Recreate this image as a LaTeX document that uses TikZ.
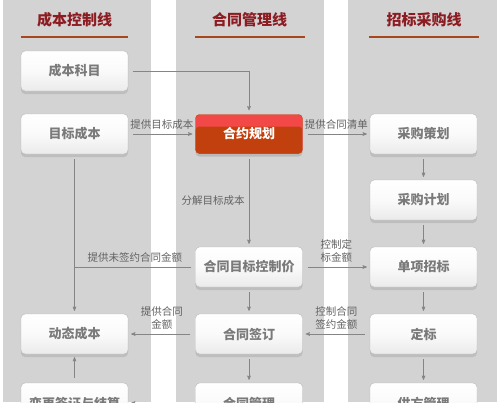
\documentclass[tikz,border=0pt]{standalone}
\usepackage{fontspec}
\setmainfont{Noto Sans CJK SC}
\usepackage{tikz}
\usetikzlibrary{arrows,shadows}
\usepackage{xcolor}
\definecolor{colbg}{HTML}{D3D3D3}
\definecolor{headred}{HTML}{8C1C22}
\definecolor{headrule}{HTML}{A8461E}
\definecolor{linegray}{HTML}{858585}
\definecolor{boxtext}{HTML}{7A7A7A}
\definecolor{labtext}{HTML}{626262}
\definecolor{hylight}{HTML}{F24848}
\definecolor{hydark}{HTML}{C2400E}

\begin{document}
\begin{tikzpicture}[x=1pt,y=1pt,->,>=stealth',node distance=67pt,
	box/.style={rectangle,rounded corners=4pt,draw=gray!55,minimum width=107pt,minimum height=40pt,
		top color=white,bottom color=gray!16,middle color=gray!4,text=boxtext,
		font=\fontsize{13}{15}\selectfont\bfseries,
		drop shadow={shadow xshift=0pt,shadow yshift=-3pt,opacity=0.25}},
	hybox/.style={rectangle,rounded corners=4pt,draw=hydark,fill=hylight,minimum width=107pt,minimum height=39pt,
		text=white,font=\fontsize{13}{15}\selectfont\bfseries,
		path picture={\fill[hydark] (path picture bounding box.south west) rectangle ([yshift=-12pt]path picture bounding box.north east);},
		drop shadow={shadow xshift=0pt,shadow yshift=-3pt,opacity=0.3}},
	head/.style={text=headred,font=\fontsize{15}{17}\selectfont\bfseries},
	lab/.style={text=labtext,font=\fontsize{10.5}{13}\selectfont,align=center,inner sep=1pt},
	every edge/.append style={draw=linegray,line width=0.6pt,shorten >=3pt,shorten <=5pt}]
	\useasboundingbox (0,0) rectangle (500,-402);
	% columns
	\fill[colbg] (3,0) rectangle (151,-402);
	\fill[colbg] (176,0) rectangle (324,-402);
	\fill[colbg] (348,0) rectangle (497,-402);

	\node[head] (h1) at (74.5,-20) {成本控制线};
	\node[head] (h2) at (249.5,-20) {合同管理线};
	\node[head] (h3) at (424,-20) {招标采购线};
	\draw[-,headrule,line width=1.4pt] (21,-37) -- (128,-37);
	\draw[-,headrule,line width=1.4pt] (195,-37) -- (305,-37);
	\draw[-,headrule,line width=1.4pt] (369,-37) -- (479,-37);

	\node[box] (ks) at (74.5,-71) {成本科目};
	\node[box] (mb) at (74.5,-134) {目标成本};
	\node[hybox] (hy) [right of=mb, node distance=174.5pt] {合约规划};
	\node[box] (ch) [right of=hy, node distance=174.5pt] {采购策划};
	\node[box] (jh) [below of=ch, node distance=66pt] {采购计划};
	\node[box] (dx) [below of=jh] {单项招标};
	\node[box] (db) [below of=dx] {定标};
	\node[box] (gf) [below of=db, node distance=69pt] {供方管理};
	\node[box] (mk) [left of=dx, node distance=174.5pt] {合同目标控制价};
	\node[box] (qd) [below of=mk] {合同签订};
	\node[box] (gl) [below of=qd, node distance=69pt] {合同管理};
	\node[box] (dt) [left of=qd, node distance=174.5pt] {动态成本};
	\node[box] (bg) [below of=dt, node distance=69pt] {变更签证与结算};

	\draw[draw=linegray,line width=0.6pt,shorten <=5pt,shorten >=4pt] (ks.east) -| (hy.north);
	\path (mb) edge node[lab,above=3pt] {提供目标成本} (hy);
	\path (hy) edge node[lab,above=3pt] {提供合同清单} (ch);
	\path (hy) edge node[lab,left=3pt] {分解目标成本} (mk);

	\path (ch) edge (jh);
	\path (jh) edge (dx);
	\path (dx) edge (db);
	\path (db) edge (gf);

	\path (mk) edge node[lab,above=3pt] {控制定\\标金额} (dx);
	\path (db) edge node[lab,above=3pt] {控制合同\\签约金额} (qd);
	\path (mk) edge (qd);
	\path (qd) edge (gl);

	\path (mb) edge (dt);
	\draw[-,draw=linegray,line width=0.6pt,shorten <=4pt] (mk.west) -- (mk.west -| mb.south)
		node[lab,midway,above=3pt] {提供未签约合同金额};
	\path (qd) edge node[lab,above=3pt] {提供合同\\金额} (dt);
	\path (bg) edge (dt);
	\path (gl) edge (bg);
\end{tikzpicture}
\end{document}
